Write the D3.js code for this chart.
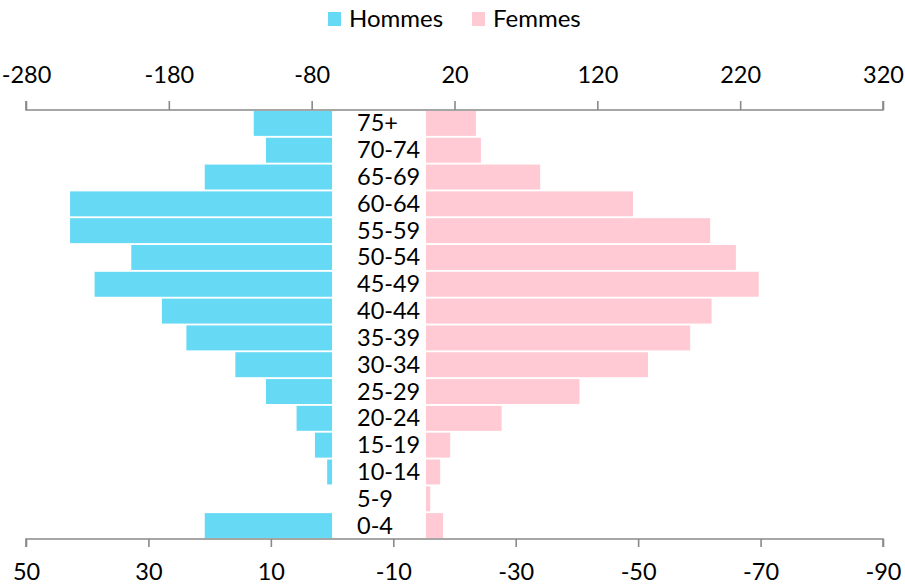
<!DOCTYPE html>
<html>
<head>
<meta charset="utf-8">
<script src="https://cdn.jsdelivr.net/npm/d3@7"></script>
<style>
  html, body { margin: 0; padding: 0; background: #fff; }
  svg { display: block; }
  text { font-family: Lato, "Open Sans", sans-serif; fill: #000; }
</style>
</head>
<body>
<svg id="chart" width="905" height="585"></svg>
<script>
const categories = ["75+", "70-74", "65-69", "60-64", "55-59", "50-54", "45-49", "40-44",
                    "35-39", "30-34", "25-29", "20-24", "15-19", "10-14", "5-9", "0-4"];
const hommes = [12.8, 10.8, 20.8, 42.8, 42.8, 32.8, 38.8, 27.8, 23.8, 15.8, 10.8, 5.8, 2.8, 0.8, 0, 20.8];
const femmes = [35, 38.5, 80, 145, 199, 217, 233, 200, 185, 155.5, 107.5, 53, 17, 10, 3, 12];
const topTicks = [-280, -180, -80, 20, 120, 220, 320];
const bottomTicks = [50, 30, 10, -10, -30, -50, -70, -90];
const seriesNames = ["Hommes", "Femmes"];
const seriesColors = ["#66D9F5", "#FFCAD4"];

const svg = d3.select("#chart");
const left = 26, right = 883, topY = 110, bottomY = 539;
const axisColor = "#898989";
const fontSize = 23.5;

const xTop = d3.scaleLinear().domain([-280, 320]).range([left, right]);
const xBottom = d3.scaleLinear().domain([50, -90]).range([left, right]);
const y = d3.scaleBand().domain(categories).range([topY, bottomY]).paddingInner(0.07).paddingOuter(0.035);

// Bars: Hommes (bottom axis)
svg.append("g").selectAll("rect").data(categories).join("rect")
  .attr("x", (d, i) => Math.min(xBottom(hommes[i]), xBottom(0)))
  .attr("width", (d, i) => Math.abs(xBottom(0) - xBottom(hommes[i])))
  .attr("y", d => y(d))
  .attr("height", y.bandwidth())
  .attr("fill", seriesColors[0]);

// Bars: Femmes (top axis)
svg.append("g").selectAll("rect").data(categories).join("rect")
  .attr("x", (d, i) => xTop(0))
  .attr("width", (d, i) => Math.max(0, xTop(femmes[i]) - xTop(0)))
  .attr("y", d => y(d))
  .attr("height", y.bandwidth())
  .attr("fill", seriesColors[1]);

// Category labels
svg.append("g").selectAll("text").data(categories).join("text")
  .attr("x", 357)
  .attr("y", d => y(d) + y.bandwidth() / 2 + 8)
  .attr("font-size", fontSize)
  .text(d => d);

// Top axis
const gTop = svg.append("g").attr("transform", `translate(0,${topY})`)
  .call(d3.axisTop(xTop).tickValues(topTicks).tickSize(9).tickPadding(4).tickFormat(d => d));
gTop.select(".domain").attr("d", `M${left},-9V0H${right}V-9`);
gTop.selectAll("line, path").attr("stroke", axisColor).attr("stroke-width", 1.6);
gTop.selectAll("text").attr("font-size", fontSize).attr("font-family", "Lato, 'Open Sans', sans-serif").attr("fill", "#000")
  .attr("dy", 0).attr("y", -27);

// Bottom axis
const gBot = svg.append("g").attr("transform", `translate(0,${bottomY})`)
  .call(d3.axisBottom(xBottom).tickValues(bottomTicks).tickSize(8).tickPadding(4).tickFormat(d => d));
gBot.select(".domain").attr("d", `M${left},8V0H${right}V8`);
gBot.selectAll("line, path").attr("stroke", axisColor).attr("stroke-width", 1.6);
gBot.selectAll("text").attr("font-size", fontSize).attr("font-family", "Lato, 'Open Sans', sans-serif").attr("fill", "#000")
  .attr("dy", 0).attr("y", 41);

// Legend
const legendItems = [{x: 328, tx: 349}, {x: 472, tx: 493}];
const lg = svg.append("g");
seriesNames.forEach((name, i) => {
  lg.append("rect").attr("x", legendItems[i].x).attr("y", 12).attr("width", 13).attr("height", 14)
    .attr("fill", seriesColors[i]);
  lg.append("text").attr("x", legendItems[i].tx).attr("y", 27).attr("font-size", 24).text(name);
});
</script>
</body>
</html>
